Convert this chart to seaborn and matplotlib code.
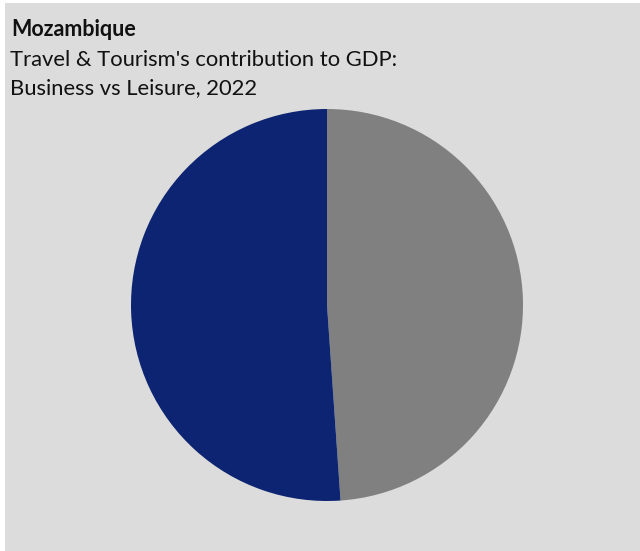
import matplotlib
matplotlib.use("Agg")
import matplotlib.pyplot as plt
import seaborn as sns
from matplotlib.patches import Rectangle

categories = ["Business", "Leisure"]
values = [48.9, 51.1]
colors = ["#808080", "#0c2471"]
title = "Mozambique"
subtitle = ["Travel & Tourism's contribution to GDP:", "Business vs Leisure, 2022"]

sns.set_theme(style="white")
plt.rcParams["font.family"] = ["Lato", "DejaVu Sans"]

W, H = 640, 551
fig = plt.figure(figsize=(W / 100, H / 100), dpi=100)
fig.patch.set_facecolor("white")
fig.patches.append(Rectangle((5 / W, 0), 1 - 5 / W, 1 - 3 / H, transform=fig.transFigure,
                             facecolor="#dcdcdc", edgecolor="none", zorder=-5))

ax = fig.add_axes([131 / W, (H - 501) / H, 392 / W, 392 / H])
ax.set_zorder(2)
ax.set_facecolor("none")
ax.pie(values, colors=colors, startangle=90, counterclock=False,
       wedgeprops=dict(linewidth=0))
ax.set_xlim(-1, 1)
ax.set_ylim(-1, 1)
ax.set_aspect("auto")
ax.axis("off")

fig.text(11 / W, 1 - 29 / H, title, fontsize=15.5, fontweight="bold", va="center", ha="left", color="#111111")
fig.text(10 / W, 1 - 60 / H, subtitle[0], fontsize=15.8, va="center", ha="left", color="#111111")
fig.text(10 / W, 1 - 88 / H, subtitle[1], fontsize=15.8, va="center", ha="left", color="#111111")

fig.savefig("out.png", dpi=100)
